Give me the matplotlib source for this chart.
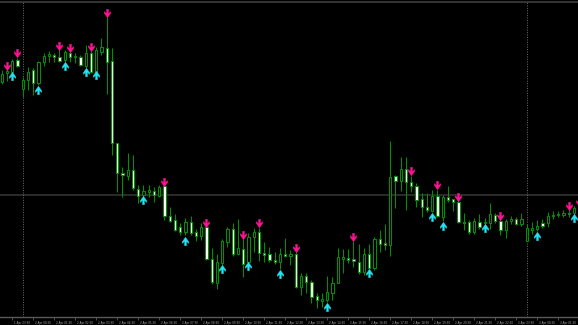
import numpy as np
import matplotlib.pyplot as plt
import matplotlib.transforms as mtrans
from matplotlib.path import Path

# OHLC of the M15 bars, in chart units (left to right)
opens = [235, 244, 245, 257, 228, 237, 247, 234, 255, 261, 262, 260, 257, 264, 260, 260, 251, 264, 245, 265,
         269, 256, 174, 144, 141, 147, 128, 122, 125, 126, 121, 131, 101, 97, 90, 85, 95, 85, 81, 90,
         58, 34, 54, 75, 88, 63, 68, 55, 80, 85, 64, 63, 57, 55, 63, 61, 63, 30, 41, 35,
         21, 16, 17, 24, 34, 58, 59, 58, 55, 45, 63, 49, 78, 74, 72, 141, 136, 148, 135, 131,
         118, 110, 106, 121, 100, 120, 118, 115, 95, 95, 85, 95, 94, 94, 102, 96, 87, 96, 98, 93,
         76, 87, 88, 94, 94, 101, 102, 102, 104, 104, 109]
highs = [247, 248, 258, 259, 240, 250, 249, 256, 264, 266, 264, 268, 267, 266, 264, 262, 272, 266, 270, 279,
         300, 269, 174, 150, 164, 162, 132, 132, 132, 130, 132, 132, 110, 103, 94, 99, 101, 88, 94, 91,
         69, 63, 78, 90, 94, 98, 78, 84, 89, 89, 75, 70, 65, 69, 79, 67, 65, 44, 44, 37,
         24, 24, 41, 40, 69, 68, 68, 76, 73, 69, 73, 80, 87, 93, 176, 142, 160, 160, 141, 134,
         124, 124, 127, 127, 122, 131, 118, 117, 104, 97, 99, 103, 99, 114, 104, 99, 98, 101, 100, 104,
         93, 95, 97, 98, 105, 106, 106, 107, 107, 111, 113]
lows = [233, 236, 245, 250, 220, 227, 222, 232, 251, 255, 255, 255, 255, 255, 254, 251, 249, 244, 244, 262,
        223, 162, 125, 120, 137, 127, 114, 121, 120, 115, 120, 97, 95, 86, 82, 82, 82, 76, 77, 57,
        33, 28, 52, 70, 61, 62, 40, 55, 65, 56, 55, 55, 53, 48, 60, 52, 29, 22, 24, 14,
        9, 10, 15, 17, 34, 44, 54, 50, 43, 42, 49, 47, 65, 67, 61, 109, 126, 107, 125, 110,
        100, 105, 105, 100, 96, 115, 106, 94, 87, 83, 83, 88, 93, 88, 94, 82, 79, 93, 92, 91,
        76, 83, 86, 89, 90, 98, 100, 100, 100, 103, 103]
closes = [243, 246, 256, 251, 237, 245, 234, 255, 261, 263, 260, 256, 265, 260, 261, 252, 264, 245, 267, 270,
          255, 174, 144, 142, 147, 129, 121, 126, 127, 122, 130, 101, 96, 87, 85, 95, 84, 81, 90, 58,
          35, 55, 76, 88, 63, 69, 53, 80, 85, 64, 62, 57, 55, 63, 61, 63, 30, 41, 35, 20,
          17, 18, 25, 34, 60, 60, 57, 56, 45, 63, 49, 78, 73, 72, 140, 136, 148, 135, 131, 117,
          110, 107, 121, 101, 120, 117, 115, 95, 94, 85, 96, 90, 95, 103, 96, 87, 96, 98, 93, 98,
          89, 89, 91, 91, 101, 102, 103, 104, 103, 109, 105]

# arrow signals: bar index and level
down_idx = [1, 3, 11, 13, 17, 20, 31, 39, 46, 49, 56, 67, 78, 83, 87, 95, 108, 110]
down_lvl = [251, 264.5, 271.5, 269.5, 270.5, 304.5, 135, 94.5, 82, 94.5, 69, 80.5, 146.5, 132.5, 120, 101.5, 111.5, 115.5]
up_idx = [2, 7, 12, 16, 18, 27, 35, 42, 47, 53, 62, 70, 82, 84, 92, 102, 109]
up_lvl = [241.5, 227, 251.5, 245, 242, 117.5, 76.5, 48, 51, 43, 10, 44, 100, 91, 89, 81.5, 99.5]

tick_idx = list(range(2, 107, 4))
tick_lbl = ['1 Apr 23:30'] + ['2 Apr %02d:30' % h for h in range(24)] + ['3 Apr 00:30', '3 Apr 01:30']
separators = [4, 100]
hline_lvl = 122

o = np.array(opens, float)
h = np.array(highs, float)
l = np.array(lows, float)
c = np.array(closes, float)
x = np.arange(len(o))

green = '#009000'
fig = plt.figure(figsize=(5.78, 3.25), dpi=100, facecolor='black')
ax = fig.add_axes([0, 8 / 325, 1, 315.5 / 325], facecolor='black')

ax.axhline(hline_lvl, color='#2c2c2c', lw=1.4, zorder=0)
for s in separators:
    ax.axvline(s, color='#6e6e6e', lw=0.7, ls=(0, (1, 1.5)), zorder=0)

ax.vlines(x, l, h, color=green, lw=0.75, zorder=1)
bull = c >= o
bot = np.minimum(o, c)
ht = np.maximum(np.abs(c - o), 0.3)
ax.bar(x[bull], ht[bull], bottom=bot[bull], width=0.45, color='black', edgecolor=green, lw=0.75, zorder=2)
ax.bar(x[~bull], ht[~bull], bottom=bot[~bull], width=0.45, color='white', edgecolor=green, lw=0.75, zorder=2)

arr = [(-0.22, 1), (0.22, 1), (0.22, -0.05), (0.75, 0.45), (0.75, 0.05), (0, -1),
       (-0.75, 0.05), (-0.75, 0.45), (-0.22, -0.05), (-0.22, 1)]
down_m = Path(arr, closed=True)
up_m = Path([(px, -py) for px, py in arr], closed=True)
ax.plot(down_idx, down_lvl, ls='none', marker=down_m, ms=6, mfc='#ff1493', mec='#ff1493', mew=0.3, zorder=3)
ax.plot(up_idx, up_lvl, ls='none', marker=up_m, ms=6, mfc='#22e4f4', mec='#22e4f4', mew=0.3, zorder=3)

ax.set_xlim(-1.7 / 5.25, (578 - 1.7) / 5.25)
ax.set_ylim(0, 315.5)
for side in ['left', 'right']:
    ax.spines[side].set_visible(False)
ax.spines['top'].set_color('#333333')
ax.spines['bottom'].set_color('#5a5a5a')
ax.spines['top'].set_linewidth(1.5)
ax.spines['bottom'].set_linewidth(1)
ax.set_yticks([])
ax.set_xticks(tick_idx)
ax.set_xticklabels(tick_lbl, fontsize=2.0, color='#a8a8a8', ha='left')
ax.tick_params(axis='x', length=2, width=0.6, color='#5a5a5a', pad=0.8, direction='out')
shift = mtrans.ScaledTranslation(2.0 / 100, 0, fig.dpi_scale_trans)
for t in ax.get_xticklabels():
    t.set_transform(t.get_transform() + shift)

fig.savefig('out.png', dpi=100, facecolor='black')
